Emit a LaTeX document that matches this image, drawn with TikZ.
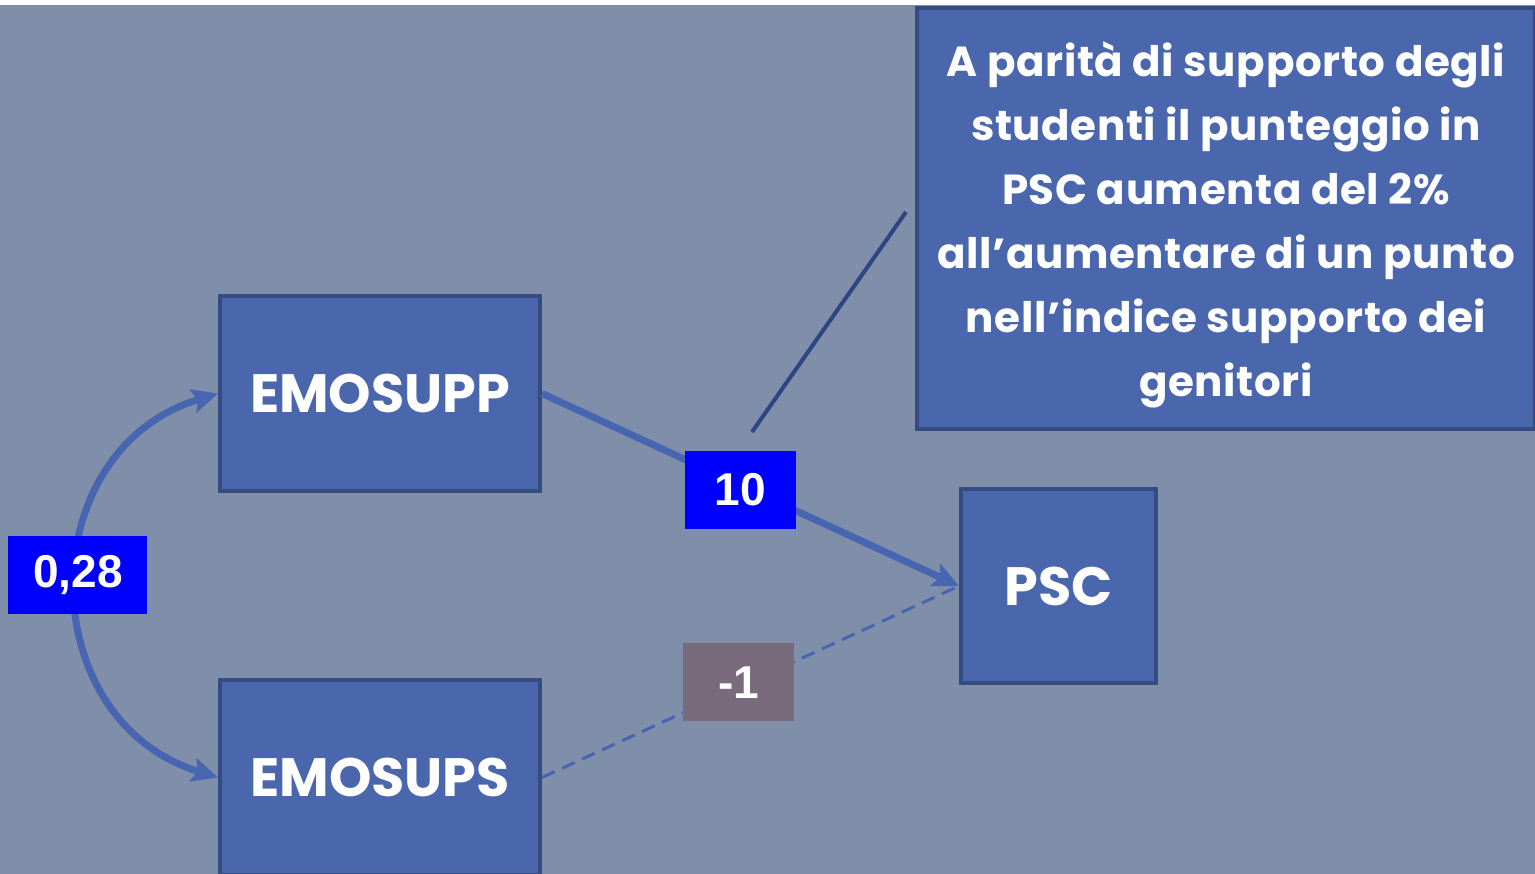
\documentclass[tikz,border=0pt]{standalone}
\usepackage{fontspec}
\usetikzlibrary{arrows.meta}
\newfontfamily\futfont{Poppins}
\newfontfamily\futspaced{Poppins}[LetterSpace=1.5]
\newfontfamily\numfont{Liberation Sans}
\definecolor{bgc}{HTML}{7F8FA9}
\definecolor{boxfill}{HTML}{4A67AD}
\definecolor{boxline}{HTML}{344C82}
\definecolor{arrc}{HTML}{4765B0}
\definecolor{labblue}{HTML}{0000FF}
\definecolor{labgrey}{HTML}{7A6B7C}
\definecolor{calline}{HTML}{2E4583}
\tikzset{
  varbox/.style={draw=boxline, line width=4pt, fill=boxfill, text=white, font=\futfont\bfseries\fontsize{54}{60}\selectfont, inner sep=0pt},
  coef/.style={fill=labblue, text=white, font=\numfont\bfseries\fontsize{46}{50}\selectfont, inner sep=0pt, minimum height=78pt},
  coefg/.style={coef, fill=labgrey},
  path1/.style={draw=arrc, line width=7pt},
  tip/.style={-{Stealth[length=26pt,width=24pt,inset=5pt]}}
}
\begin{document}
\begin{tikzpicture}[x=1pt,y=-1pt]
\useasboundingbox (0,0) rectangle (1535,874);
\fill[bgc] (0,0) rectangle (1535,874);
\fill[white] (0,0) rectangle (1535,5);
% nodes
\node[varbox, minimum width=320pt, minimum height=195pt] (emop) at (380,393.5) {EMOSUPP};
\node[varbox, minimum width=320pt, minimum height=195pt] (emos) at (380,777.5) {EMOSUPS};
\node[varbox, minimum width=195pt, minimum height=194pt] (psc) at (1058.5,586) {PSC};
\node[varbox, minimum width=618pt, minimum height=421pt] (call) at (1226,218.5) {};
\node[text=white, align=center, inner sep=0pt,
      font=\futspaced\bfseries\fontsize{42}{64}\selectfont] (calltext) at ([yshift=-6pt]call.center)
  {A parità di supporto degli\\studenti il punteggio in\\PSC aumenta del 2\%\\all’aumentare di un punto\\nell’indice supporto dei\\genitori};
% connectors
\draw[path1, tip] (emop.east) -- node[coef, minimum width=111pt, pos=0.476, yshift=-5pt] (l10) {10} (psc.west);
\draw[draw=arrc, line width=3pt, dash pattern=on 14pt off 8pt] (emos.east) -- node[coefg, minimum width=111pt, pos=0.4715, yshift=5pt] (lm1) {-1} (psc.west);
\draw[path1, {Stealth[length=26pt,width=24pt,inset=5pt]}-{Stealth[length=26pt,width=24pt,inset=5pt]}]
  (emos.west) .. controls (31,720) and (31,450) .. node[coef, minimum width=139pt, pos=0.52] (l28) {0,28} (emop.west);
\coordinate (ca) at (906,212);
\coordinate (cb) at (752,432);
\draw[calline, line width=4pt] (ca) -- (cb);
\end{tikzpicture}
\end{document}
